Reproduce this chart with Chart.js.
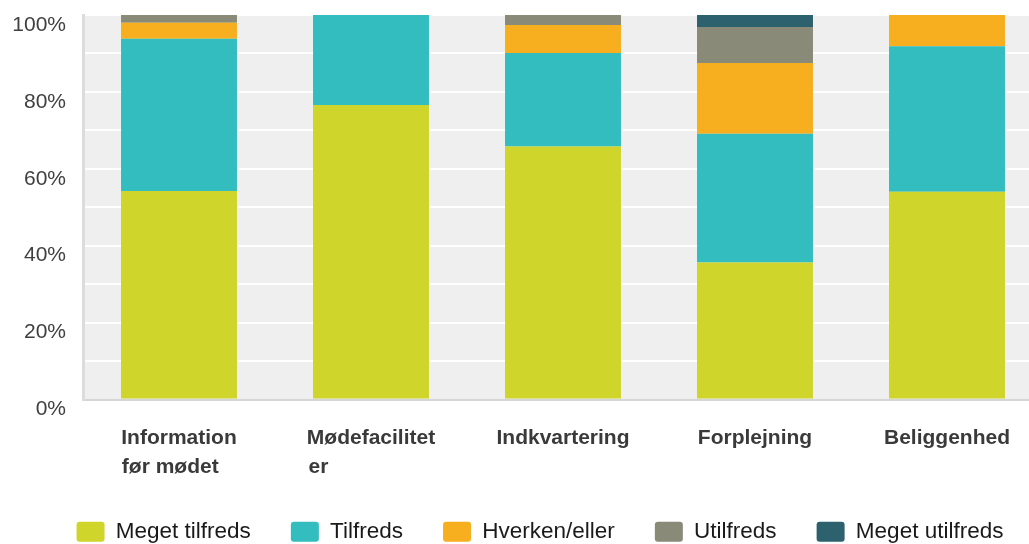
<!DOCTYPE html>
<html>
<head>
<meta charset="utf-8">
<script src="https://cdn.jsdelivr.net/npm/chart.js@4"></script>
<style>
  html, body { margin: 0; padding: 0; background: #fff; overflow: hidden; }
  #wrap { position: relative; width: 1080px; height: 553px; }
</style>
</head>
<body>
<div id="wrap"><canvas id="chart"></canvas></div>
<script>
// categories (multi-line labels as arrays)
const categories = [
  ['Information', 'før mødet'],
  ['Mødefacilitet', 'er'],
  'Indkvartering',
  'Forplejning',
  'Beliggenhed'
];

// share of answers in % per category
const megetTilfreds  = [54.2, 76.6, 65.8, 35.6, 54.0];
const tilfreds       = [39.6, 23.4, 24.3, 33.5, 37.9];
const hverkenEller   = [4.2, 0, 7.3, 18.4, 8.1];
const utilfreds      = [2.0, 0, 2.6, 9.4, 0];
const megetUtilfreds = [0, 0, 0, 3.1, 0];

const seriesNames = ['Meget tilfreds', 'Tilfreds', 'Hverken/eller', 'Utilfreds', 'Meget utilfreds'];
const yTicks = [0, 20, 40, 60, 80, 100];

const colors = ['#cfd52a', '#34bdbf', '#f7af1f', '#8a8a78', '#2e616e'];
const font = "'Liberation Sans', Arial, sans-serif";

// grey plot background
const plotBg = {
  id: 'plotBg',
  beforeDraw(chart) {
    const { ctx, chartArea: a } = chart;
    ctx.save();
    ctx.fillStyle = '#efefef';
    ctx.fillRect(a.left, a.top, a.right - a.left, a.bottom - a.top);
    ctx.restore();
  }
};

// pad shorter lines so multi-line labels look left aligned
const measureCtx = document.createElement('canvas').getContext('2d');
measureCtx.font = "bold 21px " + font;
function leftAlign(label) {
  if (!Array.isArray(label)) return label;
  const w = Math.max(...label.map(l => measureCtx.measureText(l).width));
  return label.map(l => {
    let s = l;
    while (measureCtx.measureText(s + ' ').width <= w + 2) s += ' ';
    return s;
  });
}

const data = [megetTilfreds, tilfreds, hverkenEller, utilfreds, megetUtilfreds];

new Chart(document.getElementById('chart'), {
  type: 'bar',
  data: {
    labels: categories,
    datasets: data.map((d, i) => ({
      label: seriesNames[i],
      data: d,
      backgroundColor: colors[i],
      borderWidth: 0,
      categoryPercentage: 1,
      barPercentage: 0.604
    }))
  },
  options: {
    responsive: true,
    maintainAspectRatio: false,
    animation: false,
    layout: { padding: { left: 0, top: 15, right: 0, bottom: 0 } },
    scales: {
      x: {
        stacked: true,
        grid: { display: false },
        border: { display: true, color: '#d6d6d6', width: 2 },
        ticks: {
          autoSkip: false,
          maxRotation: 0,
          padding: 17,
          color: '#3a3a3a',
          font: { family: font, size: 21, weight: 'bold', lineHeight: 1.34 },
          callback: function (v, i) { return leftAlign(categories[i]); }
        },
        afterFit(scale) {
          scale.height = 81;
          scale.paddingLeft = 0;
          scale.paddingRight = 0;
        }
      },
      y: {
        stacked: true,
        min: 0,
        max: 100,
        grid: { color: '#ffffff', lineWidth: 2, drawTicks: false },
        border: { display: true, color: '#dcdcdc', width: 3 },
        ticks: {
          stepSize: 10,
          padding: 17,
          labelOffset: 10,
          color: '#404040',
          font: { family: font, size: 21 },
          callback: v => yTicks.includes(v) ? v + '%' : ''
        },
        afterFit(scale) {
          scale.width = 83;
          scale.paddingTop = 0;
          scale.paddingBottom = 0;
        }
      },
      // empty spacer on the right: the plot runs past the visible edge
      spacer: {
        type: 'linear',
        position: 'right',
        grid: { display: false },
        border: { display: false },
        ticks: { display: false },
        afterFit(scale) { scale.width = 37; }
      }
    },
    plugins: {
      tooltip: { enabled: false },
      legend: {
        position: 'bottom',
        labels: {
          boxWidth: 28,
          boxHeight: 20,
          useBorderRadius: true,
          borderRadius: 3,
          padding: 40,
          color: '#1a1a1a',
          font: { family: font, size: 22.5 }
        }
      }
    }
  },
  plugins: [plotBg]
});
</script>
</body>
</html>
